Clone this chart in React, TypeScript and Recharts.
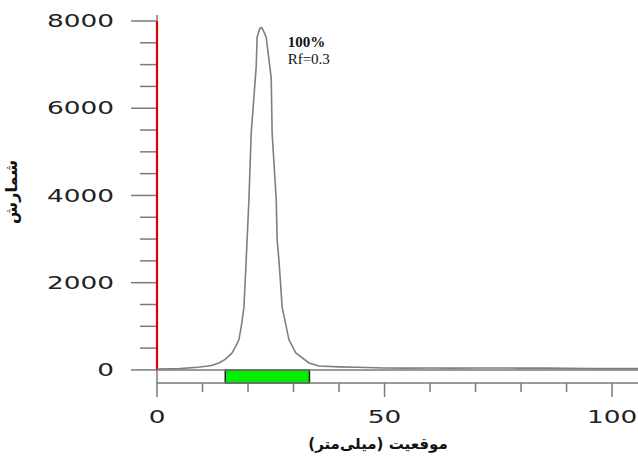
import React from "react";
import {
  ComposedChart,
  Line,
  XAxis,
  YAxis,
  ReferenceLine,
  ReferenceArea,
  ReferenceDot,
} from "recharts";

// Position (mm) and counts
const positions = [
  0, 3, 5, 9, 12, 13.6, 15, 16.5, 17.3, 18, 18.6, 19.1, 19.6, 19.8, 20.2, 20.7,
  21.8, 22, 22.6, 23, 23.5, 24, 25.1, 25.3, 26.2, 26.4, 26.8, 27.5, 29, 30.5,
  33.4, 35.6, 40, 44, 50, 55, 60, 65, 70, 75, 80, 85, 90, 95, 100, 105.7,
];
const counts = [
  20, 25, 30, 60, 100, 160, 240, 390, 540, 690, 1050, 1440, 2520, 2980, 3900,
  5430, 6950, 7630, 7830, 7850, 7750, 7630, 6690, 5430, 3900, 2980, 2520, 1440,
  690, 390, 160, 90, 70, 60, 45, 40, 45, 40, 45, 45, 40, 40, 35, 30, 30, 30,
];

const xTicks = [0, 10, 20, 30, 40, 50, 60, 70, 80, 90, 100];
const xMajor = [0, 50, 100];
const yTicks = [
  0, 500, 1000, 1500, 2000, 2500, 3000, 3500, 4000, 4500, 5000, 5500, 6000,
  6500, 7000, 7500, 8000,
];
const yMajor = [0, 2000, 4000, 6000, 8000];

const bandStart = 15;
const bandEnd = 33.5;
const peakPos = 23.0;
const peakCount = 7850;
const peakPercent = "100%";
const peakRf = "Rf=0.3";

const xTitle = "موقعیت (میلی‌متر)";
const yTitle = "شمارش";

const data = positions.map((p, i) => ({ pos: p, count: counts[i] }));

const AXIS_GRAY = "#7a7a7a";
const TICK_FONT = "'DejaVu Sans', Verdana, sans-serif";

const XTick = (props: any) => {
  const { x, y, payload } = props;
  const major = xMajor.includes(payload.value);
  return (
    <g>
      <line
        x1={x}
        x2={x}
        y1={y}
        y2={y + (major ? 14 : 9)}
        stroke={AXIS_GRAY}
        strokeWidth={1.5}
      />
      {major && (
        <text
          transform={`translate(${x},${y + 34}) scale(1.55,1)`}
          textAnchor="middle"
          dominantBaseline="central"
          fontFamily={TICK_FONT}
          fontSize={17}
          fill="#222"
        >
          {payload.value}
        </text>
      )}
    </g>
  );
};

const YTick = (props: any) => {
  const { x, y, payload } = props;
  const major = yMajor.includes(payload.value);
  return (
    <g>
      <line
        x1={major ? x - 26 : x - 17}
        x2={x - 1}
        y1={y}
        y2={y}
        stroke={AXIS_GRAY}
        strokeWidth={1.5}
      />
      {major && (
        <text
          transform={`translate(${x - 43},${y}) scale(1.55,1)`}
          textAnchor="end"
          dominantBaseline="central"
          fontFamily={TICK_FONT}
          fontSize={17}
          fill="#222"
        >
          {payload.value}
        </text>
      )}
    </g>
  );
};

const PeakLabel = (props: any) => {
  const vb = props.viewBox || {};
  const x = vb.x ?? 0;
  const y = vb.y ?? 0;
  return (
    <g fontFamily="'Liberation Serif', 'Times New Roman', serif" fill="#111">
      <text x={x + 26} y={y + 19} fontSize={15} fontWeight="bold">
        {peakPercent}
      </text>
      <text x={x + 26} y={y + 36} fontSize={15}>
        {peakRf}
      </text>
    </g>
  );
};

export default function App() {
  return (
    <div
      style={{
        position: "absolute",
        left: 0,
        top: 0,
        width: 638,
        height: 463,
        background: "#fff",
      }}
    >
      <ComposedChart
        width={638}
        height={463}
        data={data}
        margin={{ top: 21, right: 0, bottom: 0, left: 0 }}
      >
        <XAxis
          dataKey="pos"
          type="number"
          domain={[0, 105.7]}
          ticks={xTicks}
          interval={0}
          allowDataOverflow
          height={80}
          tickSize={0}
          tickMargin={0}
          tickLine={false}
          axisLine={{ stroke: AXIS_GRAY, strokeWidth: 1.5 }}
          tick={<XTick />}
          label={{
            value: xTitle,
            content: (p: any) => {
              const vb = p.viewBox;
              return (
                <text
                  x={378}
                  y={vb.y + vb.height - 14}
                  textAnchor="middle"
                  direction="rtl"
                  fontFamily="'DejaVu Sans', sans-serif"
                  fontWeight="bold"
                  fontSize={15}
                  fill="#111"
                >
                  {xTitle}
                </text>
              );
            },
          }}
        />
        <YAxis
          type="number"
          domain={[-300, 8000]}
          ticks={yTicks}
          interval={0}
          allowDataOverflow
          width={157}
          tickSize={0}
          tickMargin={0}
          tickLine={false}
          axisLine={false}
          tick={<YTick />}
          label={{
            value: yTitle,
            content: () => (
              <text
                transform={`translate(17,192) rotate(-90)`}
                textAnchor="middle"
                direction="rtl"
                fontFamily="'DejaVu Sans', sans-serif"
                fontWeight="bold"
                fontSize={16}
                fill="#111"
              >
                {yTitle}
              </text>
            ),
          }}
        />
        <ReferenceArea
          x1={bandStart}
          x2={bandEnd}
          y1={-300}
          y2={0}
          fill="#00f000"
          fillOpacity={1}
          stroke="#222"
          strokeWidth={1.5}
          ifOverflow="visible"
        />
        <ReferenceLine
          y={0}
          stroke={AXIS_GRAY}
          strokeWidth={1.5}
          ifOverflow="visible"
        />
        <ReferenceLine
          segment={[
            { x: 0, y: -300 },
            { x: 0, y: 8140 },
          ]}
          stroke={AXIS_GRAY}
          strokeWidth={1.5}
          ifOverflow="visible"
        />
        <ReferenceLine
          segment={[
            { x: 0, y: 0 },
            { x: 0, y: 8000 },
          ]}
          stroke="#e00000"
          strokeWidth={2.2}
          ifOverflow="visible"
        />
        <Line
          dataKey="count"
          type="linear"
          stroke="#7f7f7f"
          strokeWidth={1.6}
          dot={false}
          isAnimationActive={false}
        />
        <ReferenceDot
          x={peakPos}
          y={peakCount}
          r={0}
          fill="none"
          stroke="none"
          ifOverflow="visible"
          label={<PeakLabel />}
        />
      </ComposedChart>
    </div>
  );
}
